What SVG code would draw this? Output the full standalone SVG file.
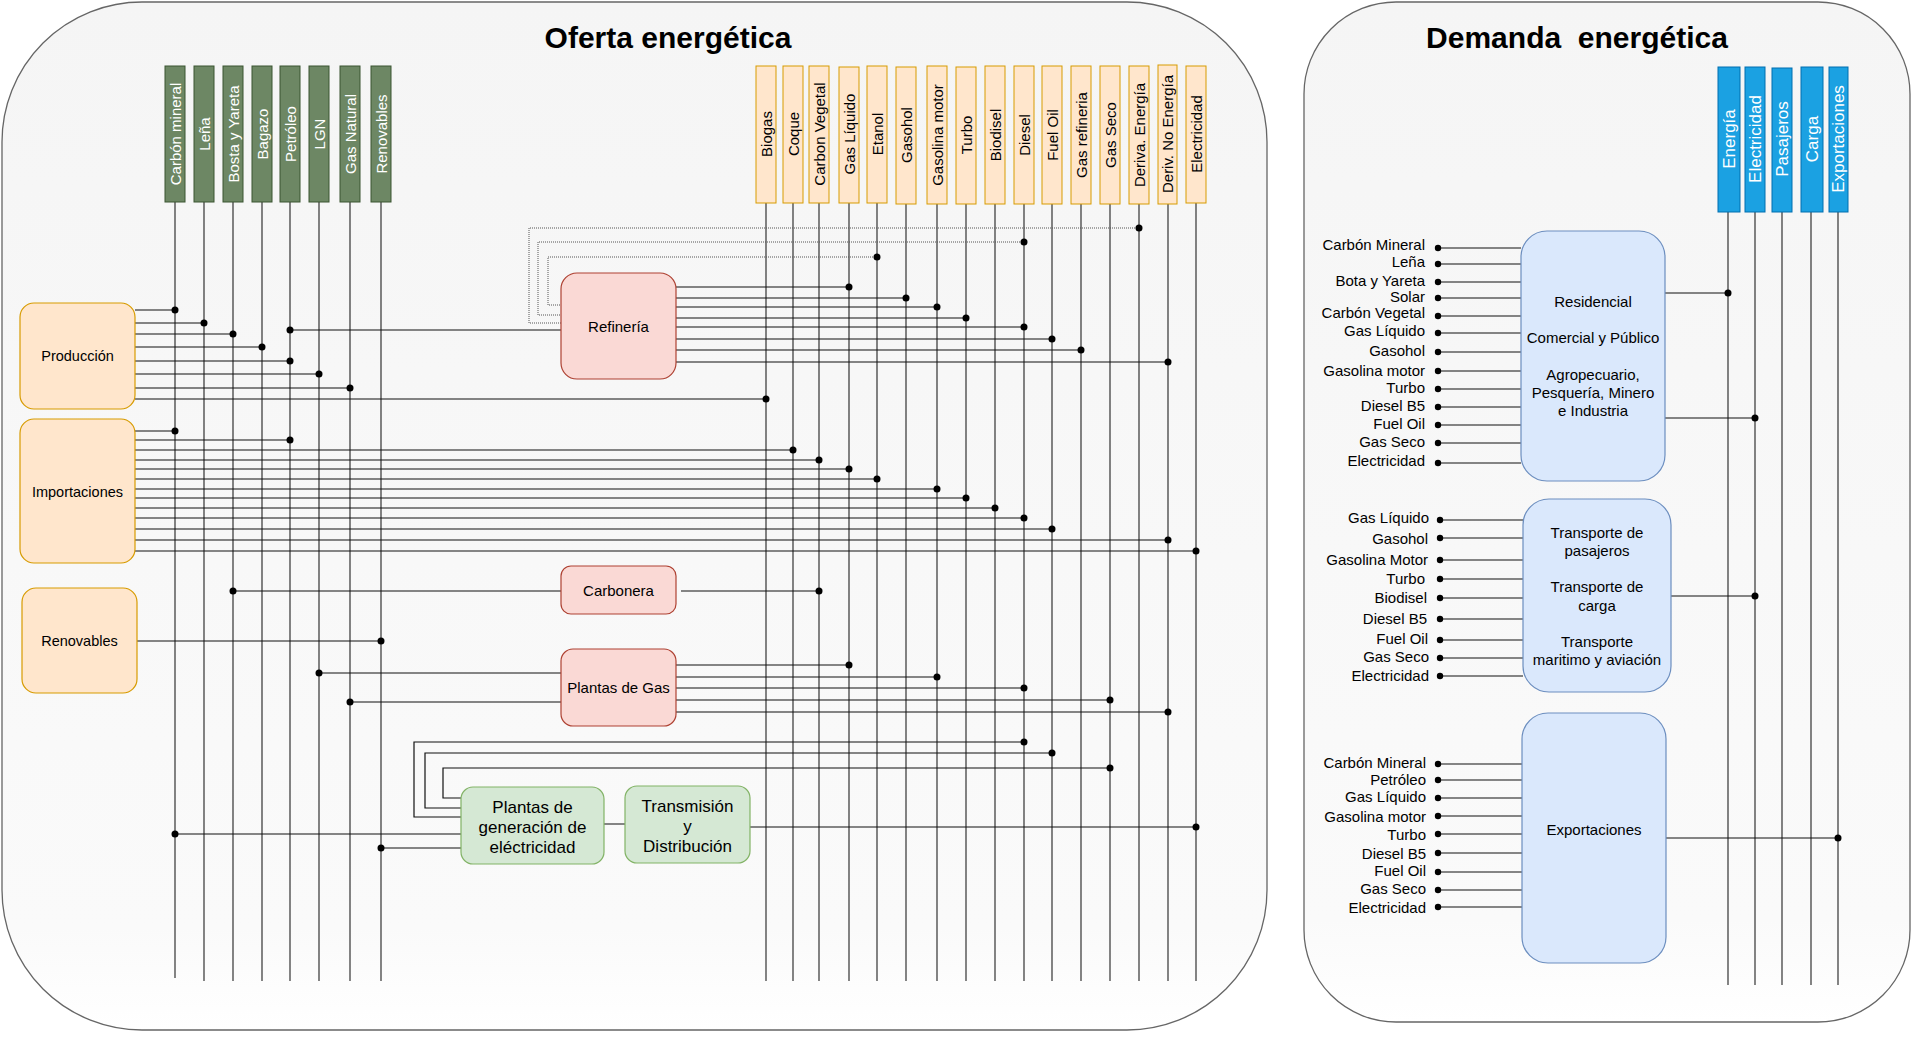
<svg xmlns="http://www.w3.org/2000/svg" width="1920" height="1042" viewBox="0 0 1920 1042">
<defs>
<linearGradient id="pg" x1="0" y1="0" x2="0" y2="1">
<stop offset="0" stop-color="#f5f5f5"/>
<stop offset="0.9" stop-color="#fafafa"/>
<stop offset="1" stop-color="#ffffff"/>
</linearGradient>
</defs>
<style>
text{font-family:"Liberation Sans",Arial,Helvetica,sans-serif;fill:#000}
.title{font-size:30px;font-weight:bold;text-anchor:middle}
.panel{fill:url(#pg);stroke:#666;stroke-width:1.3}
.hg rect{fill:#6d8764;stroke:#3a5431;stroke-width:1}
.ho rect{fill:#ffe6cc;stroke:#d79b00;stroke-width:1}
.hb rect{fill:#1ba1e2;stroke:#006eaf;stroke-width:1}
.vt{font-size:15px;text-anchor:middle;dominant-baseline:central}
.hg text,.hb text{fill:#fff}
.hb text{font-size:17px}
.src rect{fill:#ffe6cc;stroke:#d79b00;stroke-width:1.2}
.proc rect{fill:#fad9d5;stroke:#ae4132;stroke-width:1.2}
.gen rect{fill:#d5e8d4;stroke:#82b366;stroke-width:1.2}
.dem rect{fill:#dae8fc;stroke:#6c8ebf;stroke-width:1.2}
.c{text-anchor:middle}
.s14{font-size:14.5px}
.s15{font-size:15px}
.s17{font-size:17px}
.lbl{font-size:15px;text-anchor:end}
.ln{stroke:#111;stroke-width:1.2;fill:none}
.vl{stroke:#222;stroke-width:1.1;fill:none}
.dl{stroke:#555;stroke-width:1;stroke-dasharray:1 1;fill:none}
.dot{fill:#000}
</style>
<rect width="1920" height="1042" fill="#ffffff"/>
<g id="panel-oferta">
<rect class="panel" x="2" y="2" width="1265" height="1028" rx="140" ry="140"/>
<text class="title" x="668" y="48">Oferta energética</text>
</g>
<g id="panel-demanda">
<rect class="panel" x="1304" y="2" width="606" height="1020" rx="92" ry="92"/>
<text class="title" x="1577" y="48" xml:space="preserve">Demanda  energética</text>
</g>

<g id="vertical-lines">
<path class="vl" d="M175 202V978M204 202V981M233 202V981M262 202V981M290 202V981M319 202V981M350 202V981M381 202V981"/>
<path class="vl" d="M766 203V981M793 203V981M819 203V981M849 203V981M877 203V981M906 203V981M937 203V981M966 203V981M995 203V981M1024 203V981M1052 203V981M1081 203V981M1110 203V981M1139 203V981M1168 203V981M1196 203V981"/>
<path class="vl" d="M1728 212V985M1755 212V985M1782 212V985M1811 212V985M1838 212V985"/>
</g>

<g id="h-carbon-mineral" class="hg"><rect x="165" y="66" width="20" height="136"/><text class="vt" transform="translate(175,134) rotate(-90)">Carbón mineral</text></g>
<g id="h-lena" class="hg"><rect x="194" y="66" width="20" height="136"/><text class="vt" transform="translate(204,134) rotate(-90)">Leña</text></g>
<g id="h-bosta" class="hg"><rect x="223" y="66" width="20" height="136"/><text class="vt" transform="translate(233,134) rotate(-90)">Bosta y Yareta</text></g>
<g id="h-bagazo" class="hg"><rect x="252" y="66" width="20" height="136"/><text class="vt" transform="translate(262,134) rotate(-90)">Bagazo</text></g>
<g id="h-petroleo" class="hg"><rect x="280" y="66" width="20" height="136"/><text class="vt" transform="translate(290,134) rotate(-90)">Petróleo</text></g>
<g id="h-lgn" class="hg"><rect x="309" y="66" width="20" height="136"/><text class="vt" transform="translate(319,134) rotate(-90)">LGN</text></g>
<g id="h-gas-natural" class="hg"><rect x="340" y="66" width="20" height="136"/><text class="vt" transform="translate(350,134) rotate(-90)">Gas Natural</text></g>
<g id="h-renovables" class="hg"><rect x="371" y="66" width="20" height="136"/><text class="vt" transform="translate(381,134) rotate(-90)">Renovables</text></g>

<g id="h-biogas" class="ho"><rect x="756" y="66" width="20" height="137"/><text class="vt" transform="translate(766,134) rotate(-90)">Biogas</text></g>
<g id="h-coque" class="ho"><rect x="783" y="66" width="20" height="137"/><text class="vt" transform="translate(793,134) rotate(-90)">Coque</text></g>
<g id="h-carbon-vegetal" class="ho"><rect x="809" y="66" width="20" height="137"/><text class="vt" transform="translate(819,134) rotate(-90)">Carbon Vegetal</text></g>
<g id="h-gas-liquido" class="ho"><rect x="839" y="67" width="20" height="136"/><text class="vt" transform="translate(849,134) rotate(-90)">Gas Líquido</text></g>
<g id="h-etanol" class="ho"><rect x="867" y="66" width="20" height="137"/><text class="vt" transform="translate(877,134) rotate(-90)">Etanol</text></g>
<g id="h-gasohol" class="ho"><rect x="896" y="67" width="20" height="137"/><text class="vt" transform="translate(906,135) rotate(-90)">Gasohol</text></g>
<g id="h-gasolina-motor" class="ho"><rect x="927" y="66" width="20" height="138"/><text class="vt" transform="translate(937,135) rotate(-90)">Gasolina motor</text></g>
<g id="h-turbo" class="ho"><rect x="956" y="67" width="20" height="137"/><text class="vt" transform="translate(966,135) rotate(-90)">Turbo</text></g>
<g id="h-biodisel" class="ho"><rect x="985" y="66" width="20" height="138"/><text class="vt" transform="translate(995,135) rotate(-90)">Biodisel</text></g>
<g id="h-diesel" class="ho"><rect x="1014" y="66" width="20" height="138"/><text class="vt" transform="translate(1024,135) rotate(-90)">Diesel</text></g>
<g id="h-fuel-oil" class="ho"><rect x="1042" y="66" width="20" height="138"/><text class="vt" transform="translate(1052,135) rotate(-90)">Fuel Oil</text></g>
<g id="h-gas-refineria" class="ho"><rect x="1071" y="66" width="20" height="138"/><text class="vt" transform="translate(1081,135) rotate(-90)">Gas refineria</text></g>
<g id="h-gas-seco" class="ho"><rect x="1100" y="66" width="20" height="138"/><text class="vt" transform="translate(1110,135) rotate(-90)">Gas Seco</text></g>
<g id="h-deriva-energia" class="ho"><rect x="1129" y="66" width="20" height="138"/><text class="vt" transform="translate(1139,135) rotate(-90)">Deriva. Energía</text></g>
<g id="h-deriv-no-energia" class="ho"><rect x="1158" y="65" width="19" height="139"/><text class="vt" transform="translate(1167.5,134) rotate(-90)">Deriv. No Energía</text></g>
<g id="h-electricidad" class="ho"><rect x="1186" y="66" width="20" height="137"/><text class="vt" transform="translate(1196,134) rotate(-90)">Electricidad</text></g>

<g id="h-energia" class="hb"><rect x="1718" y="67" width="22" height="145"/><text class="vt" transform="translate(1729,139) rotate(-90)">Energía</text></g>
<g id="h-d-electricidad" class="hb"><rect x="1745" y="67" width="20" height="145"/><text class="vt" transform="translate(1755,139) rotate(-90)">Electricidad</text></g>
<g id="h-pasajeros" class="hb"><rect x="1772" y="68" width="20" height="144"/><text class="vt" transform="translate(1782,139) rotate(-90)">Pasajeros</text></g>
<g id="h-carga" class="hb"><rect x="1801" y="67" width="22" height="145"/><text class="vt" transform="translate(1812,139) rotate(-90)">Carga</text></g>
<g id="h-exportaciones" class="hb"><rect x="1829" y="67" width="19" height="145"/><text class="vt" transform="translate(1838.5,139) rotate(-90)">Exportaciones</text></g>

<g id="connectors">
<path class="ln" d="M135 310H175M135 323H204M135 334H233M135 347H262M135 361H290M135 374H319M135 388H350M135 399H766"/>
<path class="ln" d="M290 330H561"/>
<path class="dl" d="M1139 228H529V323H561M1024 242H538V315H561M877 257H548V305H561"/>
<path class="ln" d="M676 287H849M676 298H906M676 307H937M676 318H966M676 327H1024M676 339H1052M676 350H1081M676 362H1168"/>
<path class="ln" d="M135 431H175M135 440H290M135 450H793M135 460H819M135 469H849M135 479H877M135 489H937M135 498H966M135 508H995M135 518H1024M135 529H1052M135 540H1168M135 551H1196"/>
<path class="ln" d="M233 591H561M681 591H819"/>
<path class="ln" d="M137 641H381"/>
<path class="ln" d="M319 673H561M350 702H561M676 665H849M676 677H937M676 688H1024M676 700H1110M676 712H1168"/>
<path class="ln" d="M1024 742H414V817H461M1052 753H425V808H461M1110 768H443V798H461"/>
<path class="ln" d="M175 834H461M381 848H461M604 824H625M750 827H1196"/>
<path class="ln" d="M1665 293H1728M1665 418H1755M1671 596H1755M1666 838H1838"/>
<path class="ln" d="M1438 248H1521M1438 264H1521M1438 282H1521M1438 298H1521M1438 316H1521M1438 333H1521M1438 352H1521M1438 371H1521M1438 389H1521M1438 407H1521M1438 425H1521M1438 443H1521M1438 463H1521"/>
<path class="ln" d="M1440 520H1523M1440 538H1523M1440 560H1523M1440 579H1523M1440 598H1523M1440 619H1523M1440 640H1523M1440 658H1523M1440 676H1523"/>
<path class="ln" d="M1438 764H1522M1438 780H1522M1438 798H1522M1438 816H1522M1438 834H1522M1438 853H1522M1438 872H1522M1438 890H1522M1438 907H1522"/>
<g class="dot">
<circle cx="175" cy="310" r="3.5"/><circle cx="204" cy="323" r="3.5"/><circle cx="233" cy="334" r="3.5"/><circle cx="262" cy="347" r="3.5"/><circle cx="290" cy="361" r="3.5"/><circle cx="319" cy="374" r="3.5"/><circle cx="350" cy="388" r="3.5"/><circle cx="766" cy="399" r="3.5"/>
<circle cx="290" cy="330" r="3.5"/>
<circle cx="1139" cy="228" r="3.5"/><circle cx="1024" cy="242" r="3.5"/><circle cx="877" cy="257" r="3.5"/>
<circle cx="849" cy="287" r="3.5"/><circle cx="906" cy="298" r="3.5"/><circle cx="937" cy="307" r="3.5"/><circle cx="966" cy="318" r="3.5"/><circle cx="1024" cy="327" r="3.5"/><circle cx="1052" cy="339" r="3.5"/><circle cx="1081" cy="350" r="3.5"/><circle cx="1168" cy="362" r="3.5"/>
<circle cx="175" cy="431" r="3.5"/><circle cx="290" cy="440" r="3.5"/><circle cx="793" cy="450" r="3.5"/><circle cx="819" cy="460" r="3.5"/><circle cx="849" cy="469" r="3.5"/><circle cx="877" cy="479" r="3.5"/><circle cx="937" cy="489" r="3.5"/><circle cx="966" cy="498" r="3.5"/><circle cx="995" cy="508" r="3.5"/><circle cx="1024" cy="518" r="3.5"/><circle cx="1052" cy="529" r="3.5"/><circle cx="1168" cy="540" r="3.5"/><circle cx="1196" cy="551" r="3.5"/>
<circle cx="233" cy="591" r="3.5"/><circle cx="819" cy="591" r="3.5"/><circle cx="381" cy="641" r="3.5"/>
<circle cx="319" cy="673" r="3.5"/><circle cx="350" cy="702" r="3.5"/><circle cx="849" cy="665" r="3.5"/><circle cx="937" cy="677" r="3.5"/><circle cx="1024" cy="688" r="3.5"/><circle cx="1110" cy="700" r="3.5"/><circle cx="1168" cy="712" r="3.5"/>
<circle cx="1024" cy="742" r="3.5"/><circle cx="1052" cy="753" r="3.5"/><circle cx="1110" cy="768" r="3.5"/>
<circle cx="175" cy="834" r="3.5"/><circle cx="381" cy="848" r="3.5"/><circle cx="1196" cy="827" r="3.5"/>
<circle cx="1728" cy="293" r="3.5"/><circle cx="1755" cy="418" r="3.5"/><circle cx="1755" cy="596" r="3.5"/><circle cx="1838" cy="838" r="3.5"/>
<circle cx="1438" cy="248" r="3.2"/><circle cx="1438" cy="264" r="3.2"/><circle cx="1438" cy="282" r="3.2"/><circle cx="1438" cy="298" r="3.2"/><circle cx="1438" cy="316" r="3.2"/><circle cx="1438" cy="333" r="3.2"/><circle cx="1438" cy="352" r="3.2"/><circle cx="1438" cy="371" r="3.2"/><circle cx="1438" cy="389" r="3.2"/><circle cx="1438" cy="407" r="3.2"/><circle cx="1438" cy="425" r="3.2"/><circle cx="1438" cy="443" r="3.2"/><circle cx="1438" cy="463" r="3.2"/>
<circle cx="1440" cy="520" r="3.2"/><circle cx="1440" cy="538" r="3.2"/><circle cx="1440" cy="560" r="3.2"/><circle cx="1440" cy="579" r="3.2"/><circle cx="1440" cy="598" r="3.2"/><circle cx="1440" cy="619" r="3.2"/><circle cx="1440" cy="640" r="3.2"/><circle cx="1440" cy="658" r="3.2"/><circle cx="1440" cy="676" r="3.2"/>
<circle cx="1438" cy="764" r="3.2"/><circle cx="1438" cy="780" r="3.2"/><circle cx="1438" cy="798" r="3.2"/><circle cx="1438" cy="816" r="3.2"/><circle cx="1438" cy="834" r="3.2"/><circle cx="1438" cy="853" r="3.2"/><circle cx="1438" cy="872" r="3.2"/><circle cx="1438" cy="890" r="3.2"/><circle cx="1438" cy="907" r="3.2"/>
</g>
</g>

<g id="produccion" class="src"><rect x="20" y="303" width="115" height="106" rx="14"/><text class="c s14" x="77.5" y="361">Producción</text></g>
<g id="importaciones" class="src"><rect x="20" y="419" width="115" height="144" rx="14"/><text class="c s14" x="77.5" y="497">Importaciones</text></g>
<g id="renovables" class="src"><rect x="22" y="588" width="115" height="105" rx="14"/><text class="c s14" x="79.5" y="646">Renovables</text></g>
<g id="refineria" class="proc"><rect x="561" y="273" width="115" height="106" rx="16"/><text class="c s15" x="618.5" y="331.5">Refinería</text></g>
<g id="carbonera" class="proc"><rect x="561" y="566" width="115" height="48" rx="10"/><text class="c s15" x="618.5" y="595.5">Carbonera</text></g>
<g id="plantas-gas" class="proc"><rect x="561" y="649" width="115" height="77" rx="12"/><text class="c s15" x="618.5" y="693">Plantas de Gas</text></g>
<g id="plantas-generacion" class="gen"><rect x="461" y="787" width="143" height="77" rx="12"/><text class="c s17" x="532.5" y="813">Plantas de</text><text class="c s17" x="532.5" y="833">generación de</text><text class="c s17" x="532.5" y="853">eléctricidad</text></g>
<g id="transmision" class="gen"><rect x="625" y="786" width="125" height="77" rx="12"/><text class="c s17" x="687.5" y="812">Transmisión</text><text class="c s17" x="687.5" y="832">y</text><text class="c s17" x="687.5" y="852">Distribución</text></g>

<g id="residencial" class="dem"><rect x="1521" y="231" width="144" height="250" rx="26"/>
<text class="c s15" x="1593" y="306.5">Residencial</text>
<text class="c s15" x="1593" y="343">Comercial y Público</text>
<text class="c s15" x="1593" y="379.5">Agropecuario,</text>
<text class="c s15" x="1593" y="398">Pesquería, Minero</text>
<text class="c s15" x="1593" y="415.5">e Industria</text></g>
<g id="residencial-inputs">
<text class="lbl" x="1425" y="249.5">Carbón Mineral</text>
<text class="lbl" x="1425" y="267">Leña</text>
<text class="lbl" x="1425" y="285.5">Bota y Yareta</text>
<text class="lbl" x="1425" y="301.5">Solar</text>
<text class="lbl" x="1425" y="318">Carbón Vegetal</text>
<text class="lbl" x="1425" y="336">Gas Líquido</text>
<text class="lbl" x="1425" y="356">Gasohol</text>
<text class="lbl" x="1425" y="375.5">Gasolina motor</text>
<text class="lbl" x="1425" y="393">Turbo</text>
<text class="lbl" x="1425" y="411">Diesel B5</text>
<text class="lbl" x="1425" y="429">Fuel Oil</text>
<text class="lbl" x="1425" y="447">Gas Seco</text>
<text class="lbl" x="1425" y="466">Electricidad</text>
</g>

<g id="transporte" class="dem"><rect x="1523" y="499" width="148" height="193" rx="26"/>
<text class="c s15" x="1597" y="538">Transporte de</text>
<text class="c s15" x="1597" y="556">pasajeros</text>
<text class="c s15" x="1597" y="592">Transporte de</text>
<text class="c s15" x="1597" y="610.5">carga</text>
<text class="c s15" x="1597" y="647">Transporte</text>
<text class="c s15" x="1597" y="665">maritimo y aviación</text></g>
<g id="transporte-inputs">
<text class="lbl" x="1429" y="523">Gas Líquido</text>
<text class="lbl" x="1428" y="544">Gasohol</text>
<text class="lbl" x="1428" y="565">Gasolina Motor</text>
<text class="lbl" x="1425" y="584">Turbo</text>
<text class="lbl" x="1427" y="603">Biodisel</text>
<text class="lbl" x="1427" y="624">Diesel B5</text>
<text class="lbl" x="1428" y="644">Fuel Oil</text>
<text class="lbl" x="1429" y="662">Gas Seco</text>
<text class="lbl" x="1429" y="680.5">Electricidad</text>
</g>

<g id="exportaciones" class="dem"><rect x="1522" y="713" width="144" height="250" rx="26"/>
<text class="c s15" x="1594" y="834.5">Exportaciones</text></g>
<g id="exportaciones-inputs">
<text class="lbl" x="1426" y="768">Carbón Mineral</text>
<text class="lbl" x="1426" y="785">Petróleo</text>
<text class="lbl" x="1426" y="802">Gas Líquido</text>
<text class="lbl" x="1426" y="822">Gasolina motor</text>
<text class="lbl" x="1426" y="840">Turbo</text>
<text class="lbl" x="1426" y="859">Diesel B5</text>
<text class="lbl" x="1426" y="876">Fuel Oil</text>
<text class="lbl" x="1426" y="894">Gas Seco</text>
<text class="lbl" x="1426" y="913">Electricidad</text>
</g>
</svg>
